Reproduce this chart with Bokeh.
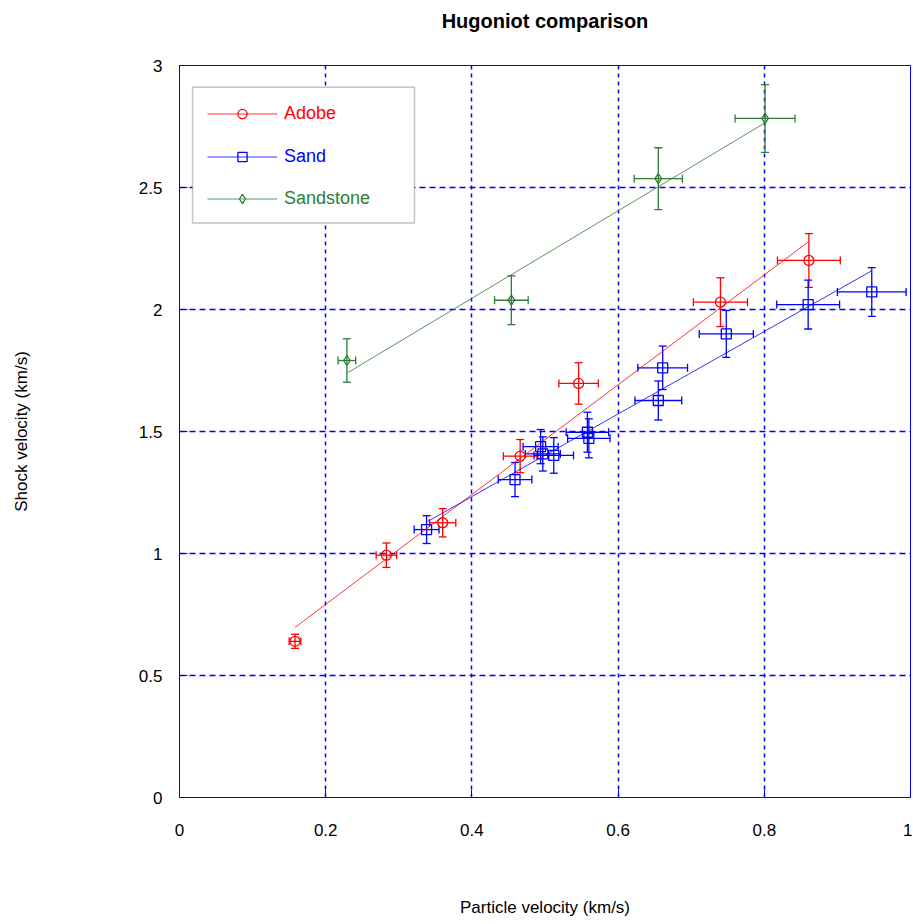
from bokeh.plotting import figure
from bokeh.models import (ColumnDataSource, Whisker, TeeHead, Legend, LegendItem,
                          BoxAnnotation, Range1d, FixedTicker, Title)
from bokeh.embed import file_html
from bokeh.resources import INLINE

# ---------------- data ----------------
adobe_up = [0.158, 0.283, 0.360, 0.466, 0.546, 0.740, 0.861]
adobe_us = [0.640, 0.993, 1.126, 1.399, 1.697, 2.030, 2.201]
adobe_up_err = [0.008, 0.014, 0.018, 0.023, 0.027, 0.037, 0.043]
adobe_us_err = [0.029, 0.050, 0.058, 0.068, 0.085, 0.100, 0.110]

sand_up = [0.338, 0.459, 0.494, 0.497, 0.512, 0.558, 0.560, 0.655, 0.661, 0.748, 0.860, 0.947]
sand_us = [1.098, 1.303, 1.438, 1.408, 1.402, 1.497, 1.472, 1.627, 1.761, 1.900, 2.020, 2.072]
sand_up_err = [0.017, 0.023, 0.024, 0.024, 0.027, 0.029, 0.029, 0.032, 0.034, 0.037, 0.043, 0.047]
sand_us_err = [0.057, 0.070, 0.070, 0.070, 0.073, 0.082, 0.080, 0.080, 0.089, 0.096, 0.100, 0.100]

sandstone_up = [0.229, 0.454, 0.655, 0.801]
sandstone_us = [1.791, 2.038, 2.536, 2.783]
sandstone_up_err = [0.012, 0.023, 0.033, 0.041]
sandstone_us_err = [0.089, 0.100, 0.127, 0.139]

# linear fit lines (end points)
adobe_fit_up = [0.158, 0.861]
adobe_fit_us = [0.697, 2.279]
sand_fit_up = [0.340, 0.946]
sand_fit_us = [1.132, 2.157]
sandstone_fit_up = [0.230, 0.801]
sandstone_fit_us = [1.741, 2.765]

x_ticks = [0, 0.2, 0.4, 0.6, 0.8, 1]
x_tick_labels = ["0", "0.2", "0.4", "0.6", "0.8", "1"]
y_ticks = [0, 0.5, 1, 1.5, 2, 2.5, 3]
y_tick_labels = ["0", "0.5", "1", "1.5", "2", "2.5", "3"]

series_names = ["Adobe", "Sand", "Sandstone"]
series_colors = ["#ff0000", "#0000ff", "#2e7d32"]
series_markers = ["circle", "square", "diamond"]

title_text = "Hugoniot comparison"
x_label = "Particle velocity (km/s)"
y_label = "Shock velocity (km/s)"

FONT = "Liberation Sans"

p = figure(width=912, height=922, output_backend="svg", toolbar_location=None,
           x_range=Range1d(0, 1), y_range=Range1d(0, 3), title=None,
           min_border_left=179, min_border_right=2, min_border_top=65,
           min_border_bottom=125)

p.background_fill_color = "white"
p.border_fill_color = "white"
p.outline_line_color = "#0000ff"
p.outline_line_width = 1

# spacer between frame and title, then the title itself
p.add_layout(Title(text=" ", text_font_size="1px", standoff=29), "above")
p.add_layout(Title(text=title_text, align="center", text_font=FONT,
                   text_font_size="20px", text_font_style="bold",
                   text_color="black", standoff=4), "above")

# axes
p.xaxis.ticker = FixedTicker(ticks=x_ticks)
p.yaxis.ticker = FixedTicker(ticks=y_ticks)
p.xaxis.major_label_overrides = dict(zip(x_ticks, x_tick_labels))
p.yaxis.major_label_overrides = dict(zip(y_ticks, y_tick_labels))
p.xaxis.axis_label = x_label
p.yaxis.axis_label = y_label
for ax in (p.xaxis, p.yaxis):
    ax.axis_line_color = "#0000ff"
    ax.major_tick_line_color = "#0000ff"
    ax.major_tick_in = 8
    ax.major_tick_out = 0
    ax.minor_tick_line_color = None
    ax.major_label_text_font = FONT
    ax.major_label_text_font_size = "17px"
    ax.major_label_text_color = "black"
    ax.axis_label_text_font = FONT
    ax.axis_label_text_font_size = "17px"
    ax.axis_label_text_font_style = "normal"
    ax.axis_label_text_color = "black"
p.xaxis.major_label_standoff = 26
p.xaxis.axis_label_standoff = 59
p.yaxis.major_label_standoff = 17
p.yaxis.axis_label_standoff = 105

p.xgrid.grid_line_color = "#0000ff"
p.xgrid.grid_line_dash = "4 4"
p.xgrid.grid_line_width = 1.5
p.ygrid.grid_line_color = "#0000ff"
p.ygrid.grid_line_dash = "6 4"
p.ygrid.grid_line_width = 1.5

data = [
    (adobe_up, adobe_us, adobe_up_err, adobe_us_err, adobe_fit_up, adobe_fit_us),
    (sand_up, sand_us, sand_up_err, sand_us_err, sand_fit_up, sand_fit_us),
    (sandstone_up, sandstone_us, sandstone_up_err, sandstone_us_err, sandstone_fit_up, sandstone_fit_us),
]

renderers = []
whiskers = []
for (up, us, ue, se, fu, fs), col, mk in zip(data, series_colors, series_markers):
    src = ColumnDataSource(dict(
        x=up, y=us,
        xlo=[a - b for a, b in zip(up, ue)], xhi=[a + b for a, b in zip(up, ue)],
        ylo=[a - b for a, b in zip(us, se)], yhi=[a + b for a, b in zip(us, se)],
    ))
    lr = p.line(fu, fs, line_color=col, line_width=1, line_alpha=0.8)
    sr = p.scatter("x", "y", source=src, marker=mk, size=10, fill_color=None,
                   line_color=col, line_width=1.3)
    renderers.append((lr, sr))
    for base, lo, hi, dim in (("x", "ylo", "yhi", "height"), ("y", "xlo", "xhi", "width")):
        whiskers.append(Whisker(source=src, base=base, lower=lo, upper=hi, dimension=dim,
                                line_color=col, line_width=1.3,
                                upper_head=TeeHead(size=8, line_color=col, line_width=1.3),
                                lower_head=TeeHead(size=8, line_color=col, line_width=1.3)))
for w in whiskers:
    p.add_layout(w)

# legend frame
p.add_layout(BoxAnnotation(left=0.0178, right=0.3214, bottom=2.355, top=2.911,
                           fill_color="white", fill_alpha=1.0,
                           line_color="#3c3c3c", line_width=1.5))

legend_y = [672, 629, 587]
for name, col, (lr, sr), ly in zip(series_names, series_colors, renderers, legend_y):
    leg = Legend(items=[LegendItem(label=name, renderers=[lr, sr])],
                 location=(28, ly), padding=0, margin=0,
                 border_line_color=None, background_fill_alpha=0,
                 glyph_width=70, glyph_height=23, label_height=21,
                 label_standoff=7, label_text_color=col,
                 label_text_font=FONT, label_text_font_size="18px")
    p.add_layout(leg)

open("out.html", "w").write(file_html(p, INLINE))
